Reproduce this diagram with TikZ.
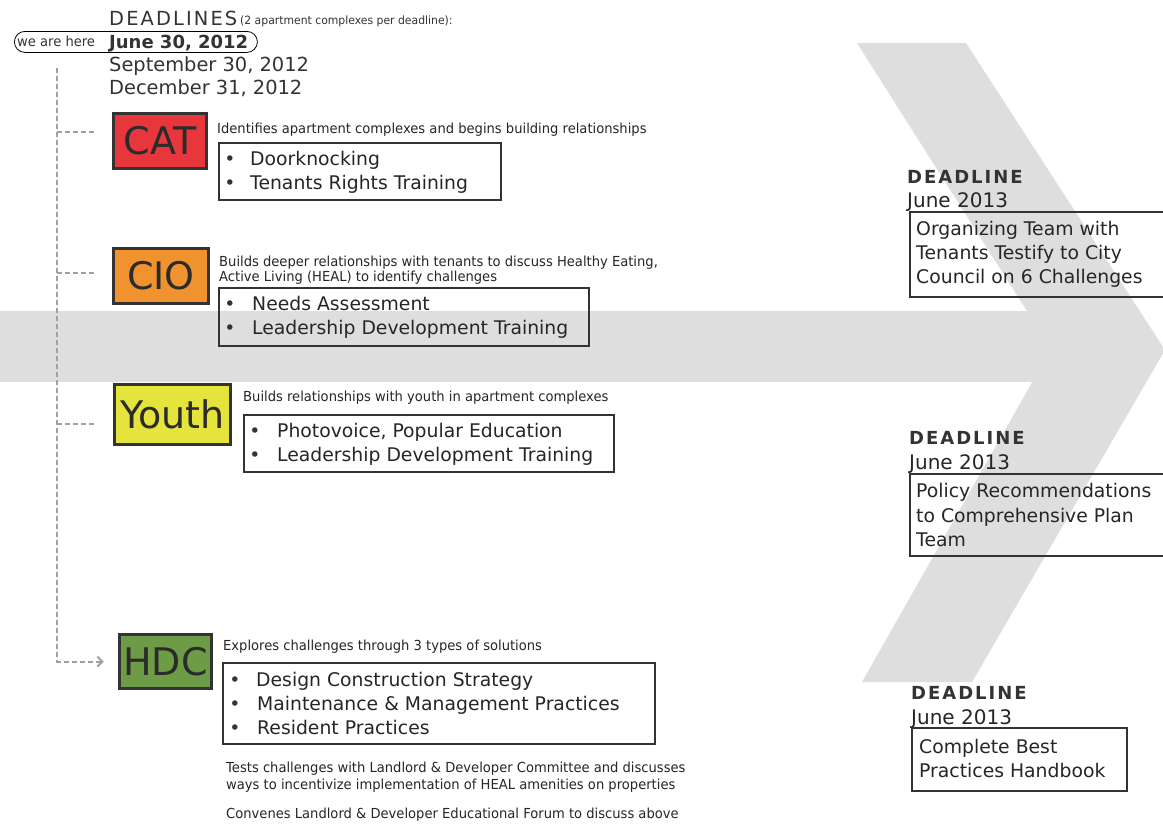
\documentclass[tikz,border=0pt]{standalone}
\usepackage{fontspec}
\setmainfont{DejaVu Sans}
\newfontfamily\plainfont{DejaVu Sans}
\newfontfamily\trackfont[LetterSpace=11]{DejaVu Sans}
\newfontfamily\condfont[FakeStretch=0.95]{DejaVu Sans}
\usetikzlibrary{arrows.meta}
\definecolor{ink}{HTML}{333333}
\definecolor{chevgray}{HTML}{DEDEDE}
\definecolor{dashgray}{HTML}{A0A0A0}
\definecolor{catred}{HTML}{E8373C}
\definecolor{cioorange}{HTML}{F0932F}
\definecolor{youthyellow}{HTML}{E4E43C}
\definecolor{hdcgreen}{HTML}{6E9B45}
\begin{document}
\begin{tikzpicture}[x=1pt,y=-1pt,
  txt/.style={inner sep=0pt, anchor=base west, text=ink},
  desc/.style={txt, text=black!85, font=\condfont\fontsize{13.8}{15}\selectfont},
  item/.style={txt, text=black!85, font=\fontsize{18.8}{24}\selectfont},
  bul/.style={inner sep=0pt, anchor=base, text=ink, font=\fontsize{18.8}{24}\selectfont},
  date/.style={txt, font=\fontsize{19.4}{22}\selectfont},
  dlhead/.style={txt, font=\trackfont\bfseries\fontsize{18}{20}\selectfont},
  junhead/.style={txt, text=black!85, font=\fontsize{20}{22}\selectfont},
  labelbox/.style={draw=ink, line width=3.5pt, inner sep=0pt, text=ink!85!black, font=\plainfont\fontsize{38}{40}\selectfont},
  listbox/.style={draw=ink, line width=2pt, inner sep=0pt, anchor=north west},
  dashline/.style={draw=dashgray, line width=2pt, dash pattern=on 5pt off 3pt}
]
\useasboundingbox (0,0) rectangle (1163,823);
\clip (0,0) rectangle (1163,823);
\fill[white] (0,0) rectangle (1163,823);

% big grey arrow
\fill[chevgray] (0,311) rectangle (1052,382);
\fill[chevgray] (857,43) -- (966,43) -- (1165,350) -- (972,682) -- (862,682) -- (1051,349) -- cycle;

% header
\node[txt, font=\trackfont\fontsize{19.4}{22}\selectfont] (dl) at (109,25) {DEADLINES};
\node[txt, font=\condfont\fontsize{11.4}{12}\selectfont] (dlnote) at (240,24) {(2 apartment complexes per deadline):};
\node[draw=black, line width=0.8pt, rounded corners=10.5pt, minimum width=243pt, minimum height=21pt, inner sep=0pt, anchor=north west] (herering) at (14,31) {};
\node[txt, font=\condfont\fontsize{13.8}{14}\selectfont] (here) at (17,46) {we are here};
\node[txt, font=\bfseries\fontsize{18}{20}\selectfont] (d1) at (109,48) {June 30, 2012};
\node[date] (d2) at (109,71) {September 30, 2012};
\node[date] (d3) at (109,94) {December 31, 2012};

% label boxes
\node[labelbox, fill=catred, minimum width=93pt, minimum height=55pt] (cat) at (160,141) {CAT};
\node[labelbox, fill=cioorange, minimum width=95pt, minimum height=55pt] (cio) at (161,276) {CIO};
\node[labelbox, fill=youthyellow, minimum width=116pt, minimum height=60pt] (youth) at (172.5,414.5) {Youth};
\node[labelbox, fill=hdcgreen, minimum width=92pt, minimum height=54pt] (hdc) at (165.5,661.5) {HDC};

% dashed connectors
\coordinate (trunktop) at (57,68);
\coordinate (catb) at (57,132);  \coordinate (catbe) at (97,132);
\coordinate (ciob) at (57,273);  \coordinate (ciobe) at (97,273);
\coordinate (youthb) at (57,424); \coordinate (youthbe) at (97,424);
\draw[dashline, -{Straight Barb[length=5pt,width=10pt]}, shorten >=14pt]
  (trunktop) -- (trunktop |- hdc.west) -- (hdc.west);
\draw[dashline] (catb) -- (catbe);
\draw[dashline] (ciob) -- (ciobe);
\draw[dashline] (youthb) -- (youthbe);

% CAT
\node[desc] (catd) at (217,133) {Identifies apartment complexes and begins building relationships};
\node[listbox, minimum width=282pt, minimum height=57pt] (catlist) at (218,142) {};
\node[bul] (catb1) at (230,165) {•};
\node[item] (cati1) at (250,165) {Doorknocking};
\node[bul] (catb2) at (230,189) {•};
\node[item] (cati2) at (250,189) {Tenants Rights Training};

% CIO
\node[desc] (ciod1) at (219,266) {Builds deeper relationships with tenants to discuss Healthy Eating,};
\node[desc] (ciod2) at (219,281) {Active Living (HEAL) to identify challenges};
\node[listbox, minimum width=370pt, minimum height=58pt] (ciolist) at (218,287) {};
\node[bul] (ciob1) at (230,310) {•};
\node[item] (cioi1) at (252,310) {Needs Assessment};
\node[bul] (ciob2) at (230,334) {•};
\node[item] (cioi2) at (252,334) {Leadership Development Training};

% Youth
\node[desc] (youthd) at (243,401) {Builds relationships with youth in apartment complexes};
\node[listbox, minimum width=370pt, minimum height=57pt] (youthlist) at (243,414) {};
\node[bul] (youthb1) at (255,437) {•};
\node[item] (youthi1) at (277,437) {Photovoice, Popular Education};
\node[bul] (youthb2) at (255,461) {•};
\node[item] (youthi2) at (277,461) {Leadership Development Training};

% HDC
\node[desc] (hdcd) at (223,650) {Explores challenges through 3 types of solutions};
\node[listbox, minimum width=432pt, minimum height=81pt] (hdclist) at (222,662) {};
\node[bul] (hdcb1) at (235,686) {•};
\node[item] (hdci1) at (256,686) {Design Construction Strategy};
\node[bul] (hdcb2) at (235,710) {•};
\node[item] (hdci2) at (257,710) {Maintenance \& Management Practices};
\node[bul] (hdcb3) at (235,734) {•};
\node[item] (hdci3) at (257,734) {Resident Practices};
\node[desc] (hdce1) at (226,772) {Tests challenges with Landlord \& Developer Committee and discusses};
\node[desc] (hdce2) at (226,789) {ways to incentivize implementation of HEAL amenities on properties};
\node[desc] (hdce3) at (226,818) {Convenes Landlord \& Developer Educational Forum to discuss above};

% right deadlines
\node[dlhead] (dl1) at (907,183) {DEADLINE};
\node[junhead] (jun1) at (907,207) {June 2013};
\node[listbox, minimum width=265pt, minimum height=85pt] (out1) at (909,211) {};
\node[item] (o1a) at (916,235) {Organizing Team with};
\node[item] (o1b) at (916,259) {Tenants Testify to City};
\node[item] (o1c) at (916,283) {Council on 6 Challenges};

\node[dlhead] (dl2) at (909,444) {DEADLINE};
\node[junhead] (jun2) at (909,469) {June 2013};
\node[listbox, minimum width=265pt, minimum height=82pt] (out2) at (909,473) {};
\node[item] (o2a) at (916,497) {Policy Recommendations};
\node[item] (o2b) at (916,522) {to Comprehensive Plan};
\node[item] (o2c) at (916,546) {Team};

\node[dlhead] (dl3) at (911,699) {DEADLINE};
\node[junhead] (jun3) at (911,724) {June 2013};
\node[listbox, minimum width=215pt, minimum height=63pt] (out3) at (911,727) {};
\node[item] (o3a) at (919,753) {Complete Best};
\node[item] (o3b) at (919,777) {Practices Handbook};
\end{tikzpicture}
\end{document}
